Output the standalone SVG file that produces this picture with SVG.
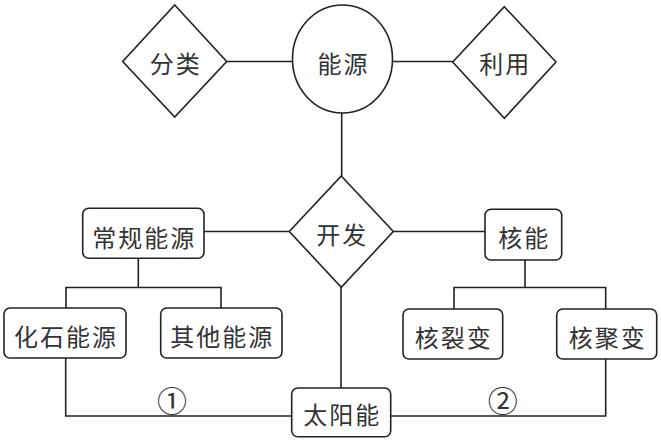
<svg xmlns="http://www.w3.org/2000/svg" width="661" height="441" viewBox="0 0 661 441">
<style>
.s{fill:#fff;stroke:#222;stroke-width:1.6}
.c{fill:none;stroke:#222;stroke-width:1.6}
.t{font-family:"Noto Sans CJK SC","Noto Sans CJK JP",sans-serif;font-size:24px;fill:#333;text-anchor:middle;dominant-baseline:central;letter-spacing:2px}
.n{font-family:"Noto Sans CJK SC","Noto Sans CJK JP",sans-serif;font-size:30px;fill:#333;text-anchor:middle;dominant-baseline:central}
</style>
<rect width="661" height="441" fill="#fff"/>
<g id="connectors">
<path class="c" d="M226.7 61.5H292.7"/>
<path class="c" d="M392.3 61.5H452.7"/>
<path class="c" d="M341.7 113V176"/>
<path class="c" d="M204 231.5H289.3"/>
<path class="c" d="M393.3 231.5H485"/>
<path class="c" d="M138.3 258V287.5M66 308V287.5H221V308"/>
<path class="c" d="M525 260V287.5M454 309V287.5H605.7V309"/>
<path class="c" d="M341 287V388"/>
<path class="c" d="M65.7 358V416H291.7"/>
<path class="c" d="M605.7 359V416H390.7"/>
</g>
<g id="fenlei"><polygon class="s" points="174.7,5 226.7,61.5 174.7,117 122.7,61.5"/><text class="t" x="175.7" y="62">分类</text></g>
<g id="nengyuan"><ellipse class="s" cx="342.5" cy="59" rx="50" ry="54"/><text class="t" x="343.5" y="62">能源</text></g>
<g id="liyong"><polygon class="s" points="504.3,6.7 556,62 504.3,118.3 452.7,62"/><text class="t" x="505.3" y="62">利用</text></g>
<g id="kaifa"><polygon class="s" points="341.3,176 393.3,231.5 341.3,287.3 289.3,231.5"/><text class="t" x="342.3" y="233">开发</text></g>
<g id="changgui"><rect class="s" x="82.7" y="208.3" width="121.3" height="50" rx="6"/><text class="t" x="144.3" y="236">常规能源</text></g>
<g id="heneng"><rect class="s" x="485" y="209.3" width="76.7" height="50.7" rx="6"/><text class="t" x="524.3" y="236">核能</text></g>
<g id="huashi"><rect class="s" x="4" y="308" width="122" height="50" rx="6"/><text class="t" x="66" y="335">化石能源</text></g>
<g id="qita"><rect class="s" x="160.7" y="308" width="121.3" height="50" rx="6"/><text class="t" x="222.3" y="335">其他能源</text></g>
<g id="heliebian"><rect class="s" x="403" y="309" width="99.7" height="50" rx="6"/><text class="t" x="453.8" y="336">核裂变</text></g>
<g id="hejubian"><rect class="s" x="556.7" y="309" width="100" height="50" rx="6"/><text class="t" x="607.7" y="336">核聚变</text></g>
<g id="taiyang"><rect class="s" x="291.7" y="388" width="99" height="48.7" rx="6"/><text class="t" x="342.2" y="413">太阳能</text></g>
<text class="n" x="172" y="399">①</text>
<text class="n" x="502.7" y="399">②</text>
</svg>
